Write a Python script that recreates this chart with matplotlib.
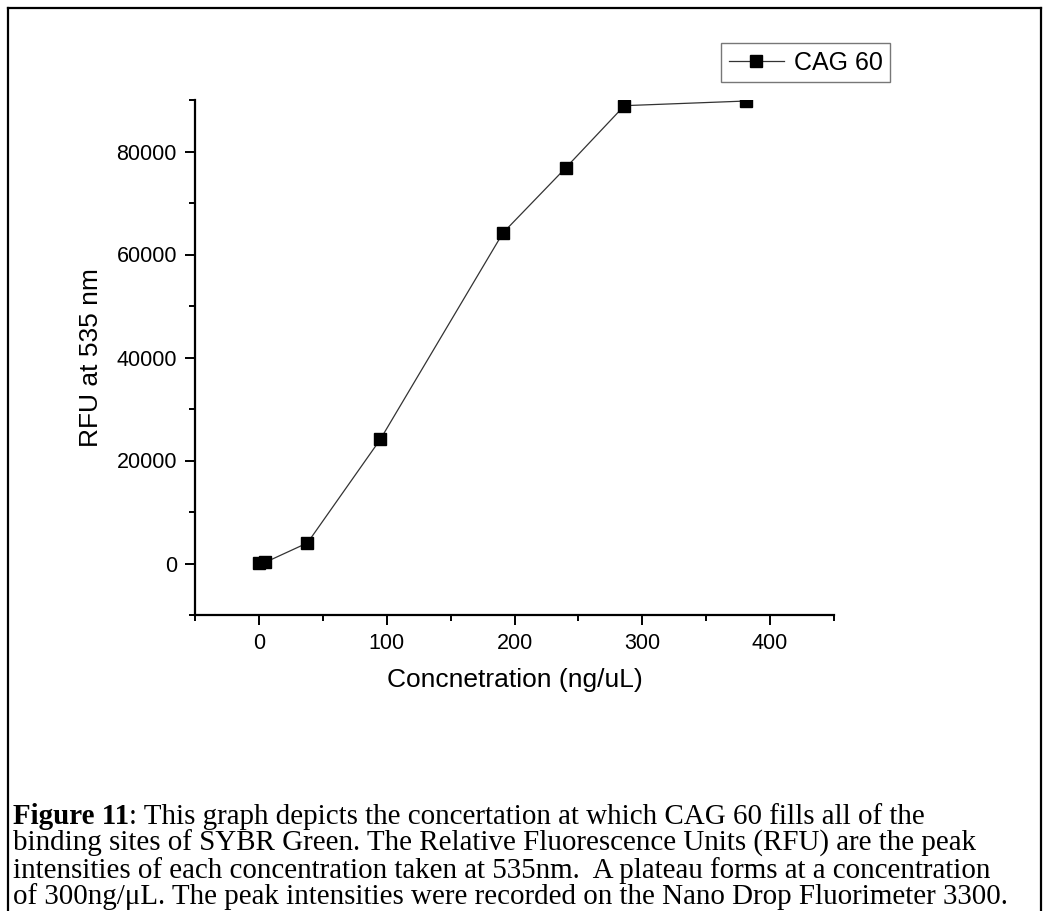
import matplotlib
matplotlib.use('Agg')
import matplotlib.pyplot as plt
from matplotlib.ticker import MultipleLocator
from matplotlib.lines import Line2D

# data
conc = [0, 4.7, 38, 95, 191, 240, 286, 381]
rfu = [100, 200, 4000, 24100, 64200, 76800, 88900, 89800]
series_name = 'CAG 60'
x_label = 'Concnetration (ng/uL)'
y_label = 'RFU at 535 nm'
caption_bold = 'Figure 11'
caption_lines = [
    ': This graph depicts the concertation at which CAG 60 fills all of the',
    'binding sites of SYBR Green. The Relative Fluorescence Units (RFU) are the peak',
    'intensities of each concentration taken at 535nm.  A plateau forms at a concentration',
    'of 300ng/\u03bcL. The peak intensities were recorded on the Nano Drop Fluorimeter 3300.',
]

W, H = 1049, 911
fig = plt.figure(figsize=(W / 100, H / 100), dpi=100)
plt.rcParams['font.family'] = ['Liberation Sans', 'DejaVu Sans']

# axes box in pixels: left 195, right 834, top 100, bottom 615
ax = fig.add_axes([195 / W, 1 - 615 / H, (834 - 195) / W, (615 - 100) / H])
ax.plot(conc, rfu, color='#333333', linewidth=0.9, marker='s', markersize=8,
        markerfacecolor='black', markeredgecolor='black', label=series_name)

ax.set_xlim(-50, 450)
ax.set_ylim(-10000, 90000)
ax.xaxis.set_major_locator(MultipleLocator(100))
ax.xaxis.set_minor_locator(MultipleLocator(50))
ax.yaxis.set_major_locator(MultipleLocator(20000))
ax.yaxis.set_minor_locator(MultipleLocator(10000))
ax.tick_params(which='major', direction='out', length=7, width=1.4, labelsize=15.5, pad=6)
ax.tick_params(which='minor', direction='out', length=4, width=1.4)
ax.spines['top'].set_visible(False)
ax.spines['right'].set_visible(False)
ax.spines['left'].set_linewidth(1.6)
ax.spines['bottom'].set_linewidth(1.6)
ax.set_xlabel(x_label, fontsize=19, labelpad=10)
ax.set_ylabel(y_label, fontsize=19, labelpad=10)

leg = ax.legend(loc='upper left', bbox_to_anchor=(721 / W, 1 - 43 / H),
                bbox_transform=fig.transFigure, borderaxespad=0, fontsize=18,
                handlelength=2.2, handletextpad=0.4, borderpad=0.3,
                fancybox=False, frameon=True, numpoints=1)
leg.get_frame().set_edgecolor('#555555')
leg.get_frame().set_linewidth(1.0)

# outer frame of the whole figure (left, top, right)
fig.add_artist(Line2D([8 / W, 8 / W], [0, 1 - 8 / H], color='black', linewidth=1.6))
fig.add_artist(Line2D([8 / W, 1041 / W], [1 - 8 / H, 1 - 8 / H], color='black', linewidth=1.6))
fig.add_artist(Line2D([1041 / W, 1041 / W], [1 - 8 / H, 0], color='black', linewidth=1.6))

# caption
serif = ['Liberation Serif', 'DejaVu Serif']
csize = 20.9
x0 = 13 / W
baselines = [824.5, 851, 877.5, 904]
tb = fig.text(x0, 1 - baselines[0] / H, caption_bold, fontsize=csize, fontweight='bold',
              family=serif, va='baseline', ha='left')
fig.canvas.draw()
bb = tb.get_window_extent()
fig.text(bb.x1 / W, 1 - baselines[0] / H, caption_lines[0], fontsize=csize, family=serif,
         va='baseline', ha='left')
for line, yb in zip(caption_lines[1:], baselines[1:]):
    fig.text(x0, 1 - yb / H, line, fontsize=csize, family=serif, va='baseline', ha='left')

fig.savefig('out.png', dpi=100)
